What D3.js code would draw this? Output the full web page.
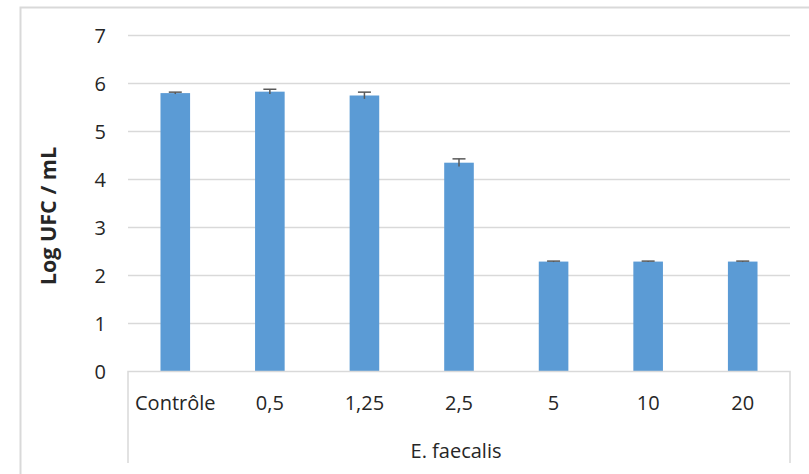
<!DOCTYPE html>
<html>
<head>
<meta charset="utf-8">
<script src="https://cdn.jsdelivr.net/npm/d3@7"></script>
<style>
  html, body { margin: 0; padding: 0; background: #fff; }
  svg { display: block; }
  text { font-family: "Open Sans", "Liberation Sans", sans-serif; fill: #262626; }
</style>
</head>
<body>
<svg id="chart" width="809" height="474"></svg>
<script>
const categories = ["Contrôle", "0,5", "1,25", "2,5", "5", "10", "20"];
const values = [5.80, 5.83, 5.75, 4.35, 2.29, 2.29, 2.29];
const errors = [0.02, 0.05, 0.07, 0.08, 0.01, 0.01, 0.01];
const yTicks = [0, 1, 2, 3, 4, 5, 6, 7];
const yTitle = "Log UFC / mL";
const groupLabel = "E. faecalis";

(function () {
const svg = d3.select("#chart");
const W = 809, H = 474;
const pLeft = 128, pRight = 790, pTop = 35.5, pBottom = 371.5, boxBottom = 463;

// outer chart border
svg.append("path")
  .attr("d", `M${W},7.5 L20.5,7.5 L20.5,${H}`)
  .attr("fill", "none").attr("stroke", "#d9d9d9").attr("stroke-width", 2);

const x = d3.scaleBand().domain(categories).range([pLeft, pRight]).paddingInner(0.687).paddingOuter(0.3435);
const y = d3.scaleLinear().domain([0, 7]).range([pBottom, pTop]);

// gridlines
svg.append("g").selectAll("line").data(yTicks.filter(d => d > 0)).join("line")
  .attr("x1", pLeft).attr("x2", pRight)
  .attr("y1", d => y(d)).attr("y2", d => y(d))
  .attr("stroke", "#d9d9d9").attr("stroke-width", 1.5);

// y tick labels
svg.append("g").selectAll("text").data(yTicks).join("text")
  .attr("x", 106).attr("y", d => y(d)).attr("dy", "0.36em")
  .attr("text-anchor", "end").attr("font-size", 20)
  .text(d => d);

// bars
svg.append("g").selectAll("rect").data(values).join("rect")
  .attr("x", (d, i) => x(categories[i]))
  .attr("width", x.bandwidth())
  .attr("y", d => y(d))
  .attr("height", d => y(0) - y(d))
  .attr("fill", "#5b9bd5");

// error bars
const eb = svg.append("g").attr("stroke", "#595959").attr("stroke-width", 1.5);
values.forEach((v, i) => {
  const cx = x(categories[i]) + x.bandwidth() / 2;
  eb.append("line").attr("x1", cx).attr("x2", cx)
    .attr("y1", y(v - errors[i])).attr("y2", y(v + errors[i]));
  eb.append("line").attr("x1", cx - 6.5).attr("x2", cx + 6.5)
    .attr("y1", y(v + errors[i])).attr("y2", y(v + errors[i]));
});

// category axis box
svg.append("path")
  .attr("d", `M${pLeft},${boxBottom} L${pLeft},${pBottom} L${pRight},${pBottom} L${pRight},${boxBottom}`)
  .attr("fill", "none").attr("stroke", "#d9d9d9").attr("stroke-width", 1.5);

// category labels
svg.append("g").selectAll("text").data(categories).join("text")
  .attr("x", d => x(d) + x.bandwidth() / 2)
  .attr("y", 410)
  .attr("text-anchor", "middle").attr("font-size", 20)
  .text(d => d);

// group label
svg.append("text")
  .attr("x", (pLeft + pRight) / 2 - 3).attr("y", 458)
  .attr("text-anchor", "middle").attr("font-size", 20)
  .text(groupLabel);

// y axis title
svg.append("text")
  .attr("transform", "translate(56,216) rotate(-90)")
  .attr("text-anchor", "middle").attr("font-size", 21.5).attr("font-weight", "bold")
  .attr("fill", "#000")
  .text(yTitle);
})();
</script>
</body>
</html>
